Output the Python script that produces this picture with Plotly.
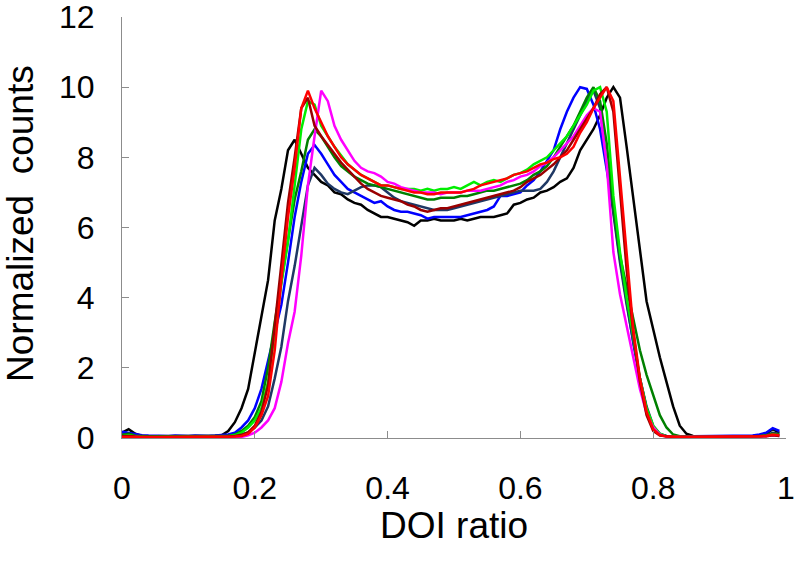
import plotly.graph_objects as go

# DOI ratio grid (0.00 ... 0.99)
x = [0.00,0.01,0.02,0.03,0.04,0.05,0.06,0.07,0.08,0.09,
     0.10,0.11,0.12,0.13,0.14,0.15,0.16,0.17,0.18,0.19,
     0.20,0.21,0.22,0.23,0.24,0.25,0.26,0.27,0.28,0.29,
     0.30,0.31,0.32,0.33,0.34,0.35,0.36,0.37,0.38,0.39,
     0.40,0.41,0.42,0.43,0.44,0.45,0.46,0.47,0.48,0.49,
     0.50,0.51,0.52,0.53,0.54,0.55,0.56,0.57,0.58,0.59,
     0.60,0.61,0.62,0.63,0.64,0.65,0.66,0.67,0.68,0.69,
     0.70,0.71,0.72,0.73,0.74,0.75,0.76,0.77,0.78,0.79,
     0.80,0.81,0.82,0.83,0.84,0.85,0.86,0.87,0.88,0.89,
     0.90,0.91,0.92,0.93,0.94,0.95,0.96,0.97,0.98,0.99]

black = [0.15,0.25,0.12,0.06,0.05,0.05,0.04,0.04,0.05,0.04,
         0.04,0.05,0.05,0.05,0.06,0.08,0.2,0.45,0.85,1.4,
         2.4,3.5,4.5,6.2,7.1,8.2,8.5,8.1,7.7,7.5,
         7.3,7.2,7.0,6.95,6.8,6.7,6.65,6.5,6.4,6.3,
         6.3,6.25,6.2,6.15,6.05,6.2,6.2,6.25,6.2,6.2,
         6.2,6.25,6.2,6.25,6.3,6.3,6.3,6.35,6.4,6.65,
         6.7,6.8,6.85,7.0,7.05,7.15,7.3,7.4,7.7,8.2,
         8.5,8.8,9.2,9.7,10.0,9.7,8.3,6.8,5.4,3.9,
         3.1,2.3,1.6,0.9,0.35,0.12,0.06,0.05,0.05,0.04,
         0.05,0.05,0.04,0.05,0.05,0.06,0.08,0.12,0.25,0.15]

blue = [0.18,0.15,0.1,0.08,0.07,0.06,0.06,0.06,0.07,0.06,
        0.06,0.07,0.06,0.06,0.07,0.08,0.1,0.15,0.3,0.5,
        0.85,1.4,2.2,3.0,3.8,5.0,6.3,7.3,8.1,8.35,
        8.1,7.8,7.5,7.3,7.1,7.0,6.9,6.8,6.7,6.75,
        6.6,6.5,6.45,6.45,6.4,6.35,6.25,6.3,6.3,6.3,
        6.3,6.3,6.35,6.4,6.45,6.5,6.6,6.9,6.9,6.95,
        7.0,7.2,7.35,7.6,7.9,8.2,8.8,9.3,9.7,10.0,
        9.95,9.5,8.8,7.6,6.5,5.1,3.9,2.7,1.7,0.85,
        0.3,0.1,0.06,0.05,0.05,0.05,0.05,0.05,0.05,0.05,
        0.05,0.05,0.05,0.06,0.06,0.07,0.1,0.15,0.28,0.2]

navy = [0.1,0.12,0.07,0.05,0.05,0.05,0.05,0.05,0.05,0.05,
        0.05,0.05,0.05,0.05,0.05,0.05,0.06,0.07,0.1,0.16,
        0.3,0.5,0.9,1.7,2.6,3.9,4.9,6.1,7.2,7.7,
        7.5,7.25,7.1,7.0,6.95,7.05,7.15,7.2,7.2,7.15,
        7.0,6.85,6.75,6.7,6.65,6.6,6.55,6.5,6.5,6.5,
        6.55,6.6,6.65,6.7,6.75,6.8,6.85,6.9,6.95,7.0,
        7.05,7.05,7.05,7.1,7.3,7.6,8.0,8.4,8.8,9.2,
        9.6,9.9,9.4,7.8,6.4,5.0,3.8,2.7,1.7,0.9,
        0.35,0.12,0.05,0.04,0.04,0.04,0.04,0.04,0.04,0.04,
        0.04,0.04,0.04,0.04,0.05,0.05,0.06,0.08,0.15,0.12]

dkgreen = [0.08,0.12,0.06,0.04,0.04,0.04,0.04,0.04,0.04,0.04,
           0.04,0.04,0.04,0.04,0.05,0.05,0.06,0.1,0.2,0.35,
           0.6,1.05,2.0,3.3,4.5,5.7,6.8,7.6,8.5,8.8,
           8.6,8.3,8.0,7.75,7.6,7.45,7.35,7.25,7.2,7.15,
           7.1,7.05,7.0,6.95,6.9,6.85,6.8,6.8,6.85,6.85,
           6.85,6.9,6.9,6.95,7.0,7.05,7.05,7.1,7.15,7.2,
           7.25,7.35,7.5,7.6,7.75,8.0,8.3,8.6,8.9,9.3,
           9.7,10.0,9.6,8.4,6.6,5.2,4.3,3.4,2.5,1.8,
           1.2,0.65,0.3,0.1,0.05,0.04,0.04,0.04,0.04,0.04,
           0.04,0.04,0.04,0.04,0.04,0.05,0.05,0.07,0.12,0.1]

lime = [0.05,0.08,0.05,0.03,0.03,0.03,0.03,0.03,0.03,0.03,
        0.03,0.03,0.03,0.03,0.04,0.04,0.05,0.08,0.15,0.3,
        0.5,0.85,1.6,3.0,4.4,5.6,7.2,8.8,9.6,9.5,
        8.9,8.6,8.3,8.05,7.8,7.65,7.5,7.4,7.3,7.2,
        7.2,7.15,7.1,7.1,7.1,7.05,7.1,7.05,7.1,7.1,
        7.15,7.1,7.2,7.3,7.2,7.3,7.35,7.3,7.4,7.5,
        7.55,7.65,7.8,7.9,8.0,8.2,8.4,8.6,8.9,9.2,
        9.5,9.9,10.0,9.3,6.9,5.3,4.0,2.9,1.7,0.85,
        0.35,0.12,0.05,0.04,0.03,0.03,0.03,0.03,0.03,0.03,
        0.03,0.03,0.03,0.03,0.04,0.04,0.05,0.06,0.1,0.08]

magenta = [0.03,0.04,0.03,0.02,0.02,0.02,0.02,0.02,0.02,0.02,
           0.02,0.02,0.02,0.02,0.02,0.02,0.02,0.03,0.03,0.08,
           0.15,0.3,0.5,0.85,1.6,2.7,3.6,5.2,7.2,8.6,
           9.9,9.6,8.9,8.5,8.2,7.9,7.7,7.6,7.55,7.45,
           7.3,7.25,7.15,7.1,7.05,7.0,7.0,7.0,6.95,7.0,
           7.0,7.0,7.05,7.05,7.05,7.1,7.15,7.2,7.3,7.35,
           7.45,7.5,7.6,7.75,7.85,8.0,8.2,8.4,8.6,8.9,
           9.2,9.4,9.3,7.8,5.3,4.1,3.2,2.3,1.4,0.7,
           0.3,0.1,0.04,0.03,0.03,0.03,0.03,0.03,0.03,0.03,
           0.03,0.03,0.03,0.03,0.03,0.04,0.04,0.05,0.08,0.06]

dkred = [0.05,0.06,0.04,0.03,0.03,0.03,0.03,0.03,0.03,0.03,
         0.03,0.03,0.03,0.03,0.03,0.04,0.04,0.06,0.09,0.16,
         0.35,0.75,1.5,3.2,5.0,6.7,8.0,9.4,9.7,8.9,
         8.6,8.35,8.1,7.85,7.65,7.45,7.25,7.1,7.0,6.9,
         6.85,6.8,6.75,6.65,6.6,6.5,6.45,6.5,6.55,6.55,
         6.6,6.65,6.7,6.75,6.8,6.85,6.9,6.95,7.0,7.05,
         7.15,7.3,7.4,7.5,7.65,7.8,8.0,8.2,8.5,8.8,
         9.1,9.4,9.8,10.0,9.3,7.1,4.8,3.0,1.6,0.65,
         0.2,0.07,0.04,0.03,0.03,0.03,0.03,0.03,0.03,0.03,
         0.03,0.03,0.03,0.03,0.03,0.04,0.04,0.05,0.08,0.06]

red = [0.03,0.04,0.03,0.02,0.02,0.02,0.02,0.02,0.02,0.02,
       0.02,0.02,0.02,0.02,0.02,0.03,0.03,0.04,0.06,0.12,
       0.3,0.65,1.2,2.5,4.5,6.3,7.7,9.4,9.9,9.4,
       9.0,8.6,8.3,8.0,7.8,7.65,7.5,7.4,7.3,7.2,
       7.2,7.15,7.1,7.05,7.0,7.0,6.95,6.95,7.0,7.0,
       7.0,7.0,7.05,7.1,7.2,7.25,7.3,7.35,7.4,7.5,
       7.55,7.6,7.7,7.8,7.85,7.95,8.0,8.1,8.3,8.7,
       9.0,9.4,9.7,10.0,9.6,7.5,5.2,3.1,1.7,0.75,
       0.25,0.08,0.04,0.03,0.03,0.03,0.03,0.03,0.03,0.03,
       0.03,0.03,0.03,0.03,0.04,0.04,0.05,0.06,0.1,0.08]

x_ticks = [0, 0.2, 0.4, 0.6, 0.8, 1]
x_tick_text = ["0", "0.2", "0.4", "0.6", "0.8", "1"]
y_ticks = [0, 2, 4, 6, 8, 10, 12]

series = [
    (black, "#000000"),
    (blue, "#0000ff"),
    (navy, "#1f3864"),
    (dkgreen, "#008000"),
    (lime, "#00ee00"),
    (magenta, "#ff00ff"),
    (dkred, "#9a0000"),
    (red, "#ff0000"),
]

fig = go.Figure()
for ys, col in series:
    fig.add_trace(go.Scatter(x=x, y=ys, mode="lines",
                             line=dict(color=col, width=2.5),
                             showlegend=False, hoverinfo="skip"))

font_family = "Liberation Sans, Arial, sans-serif"
axis_col = "#8c8c8c"

fig.update_layout(
    width=794, height=568,
    margin=dict(l=122, r=8, t=17, b=130),
    paper_bgcolor="white", plot_bgcolor="white",
    font=dict(family=font_family, color="black"),
    xaxis=dict(range=[0, 1], tickvals=x_ticks, ticktext=x_tick_text,
               automargin=False, ticklabeloverflow="allow",
               showgrid=False, zeroline=False, showline=True,
               linecolor=axis_col, linewidth=1,
               ticks="inside", ticklen=7, tickcolor=axis_col,
               tickfont=dict(size=32, family=font_family),
               ticklabelstandoff=22),
    yaxis=dict(range=[0, 12], tickvals=y_ticks,
               automargin=False, ticklabeloverflow="allow",
               showgrid=False, zeroline=False, showline=True,
               linecolor=axis_col, linewidth=1,
               ticks="inside", ticklen=7, tickcolor=axis_col,
               tickfont=dict(size=32, family=font_family),
               ticklabelstandoff=20),
    annotations=[
        dict(text="DOI ratio", xref="paper", yref="paper",
             x=0.5, y=-0.207, xanchor="center", yanchor="middle",
             showarrow=False, font=dict(size=37, family=font_family)),
        dict(text="Normalized  counts", xref="paper", yref="paper",
             x=-0.1526, y=0.51, xanchor="center", yanchor="middle",
             textangle=-90, showarrow=False,
             font=dict(size=37, family=font_family)),
    ],
)

fig.write_html("out.html",
               config={"displayModeBar": False},
               post_script="document.body.style.margin='0px';"
                           "document.body.style.overflow='hidden';")
